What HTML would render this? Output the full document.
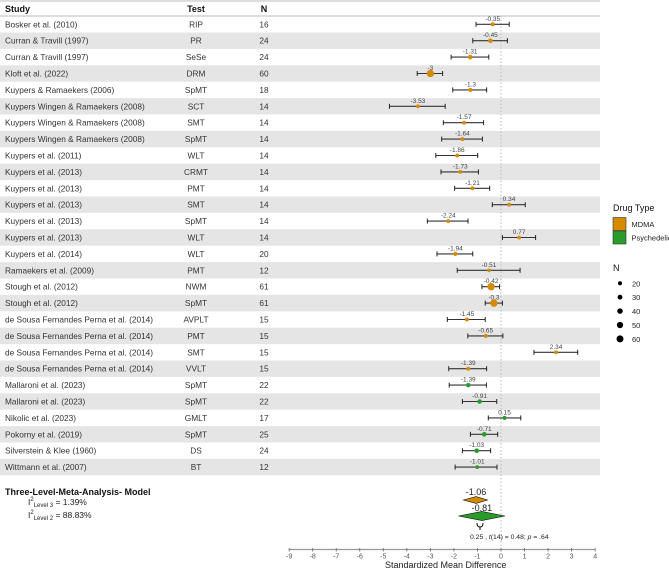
<!DOCTYPE html>
<html><head><meta charset="utf-8">
<style>
html,body{margin:0;padding:0;background:#fff;}
svg{display:block;font-family:"Liberation Sans",Arial,sans-serif;}
</style></head>
<body>
<svg id="chart" width="669" height="569" viewBox="0 0 669 569"></svg>
<script>
const studies = ["Bosker et al. (2010)","Curran & Travill (1997)","Curran & Travill (1997)","Kloft et al. (2022)","Kuypers & Ramaekers (2006)","Kuypers Wingen & Ramaekers (2008)","Kuypers Wingen & Ramaekers (2008)","Kuypers Wingen & Ramaekers (2008)","Kuypers et al. (2011)","Kuypers et al. (2013)","Kuypers et al. (2013)","Kuypers et al. (2013)","Kuypers et al. (2013)","Kuypers et al. (2013)","Kuypers et al. (2014)","Ramaekers et al. (2009)","Stough et al. (2012)","Stough et al. (2012)","de Sousa Fernandes Perna et al. (2014)","de Sousa Fernandes Perna et al. (2014)","de Sousa Fernandes Perna et al. (2014)","de Sousa Fernandes Perna et al. (2014)","Mallaroni et al. (2023)","Mallaroni et al. (2023)","Nikolic et al. (2023)","Pokorny et al. (2019)","Silverstein & Klee (1960)","Wittmann et al. (2007)"];
const tests = ["RIP","PR","SeSe","DRM","SpMT","SCT","SMT","SpMT","WLT","CRMT","PMT","SMT","SpMT","WLT","WLT","PMT","NWM","SpMT","AVPLT","PMT","SMT","VVLT","SpMT","SpMT","GMLT","SpMT","DS","BT"];
const ns = [16,24,24,60,18,14,14,14,14,14,14,14,14,14,20,12,61,61,15,15,15,15,22,22,17,25,24,12];
const smd = [-0.35,-0.45,-1.31,-3,-1.3,-3.53,-1.57,-1.64,-1.86,-1.73,-1.21,0.34,-2.24,0.77,-1.94,-0.51,-0.42,-0.3,-1.45,-0.65,2.34,-1.39,-1.39,-0.91,0.15,-0.71,-1.03,-1.01];
const ciLow = [-1.06,-1.2,-2.12,-3.56,-2.05,-4.74,-2.45,-2.52,-2.77,-2.55,-1.97,-0.37,-3.13,0.06,-2.72,-1.86,-0.81,-0.67,-2.28,-1.41,1.40,-2.22,-2.2,-1.64,-0.54,-1.30,-1.64,-1.95];
const ciHigh = [0.35,0.27,-0.52,-2.48,-0.61,-2.37,-0.74,-0.79,-0.99,-0.96,-0.48,1.03,-1.40,1.47,-1.20,0.81,-0.06,0.06,-0.67,0.08,3.26,-0.61,-0.62,-0.18,0.84,-0.14,-0.44,-0.17];
const drug = ["MDMA","MDMA","MDMA","MDMA","MDMA","MDMA","MDMA","MDMA","MDMA","MDMA","MDMA","MDMA","MDMA","MDMA","MDMA","MDMA","MDMA","MDMA","MDMA","MDMA","MDMA","MDMA","Psychedelic","Psychedelic","Psychedelic","Psychedelic","Psychedelic","Psychedelic"];
const xTicks = [-9,-8,-7,-6,-5,-4,-3,-2,-1,0,1,2,3,4];
const summaryLabels = ["MDMA","Psychedelic"];
const summaryEst = [-1.06,-0.81];
const summaryLow = [-1.6,-1.81];
const summaryHigh = [-0.57,0.17];
const legendN = [20,30,40,50,60];

const colors = {MDMA:"#d68a00", Psychedelic:"#2a9a2a"};
const NS = "http://www.w3.org/2000/svg";
const svg = document.getElementById("chart");
const x = v => 501 + v * 23.54;
const rowY = i => 24.3 + i * 16.4;
const rad = n => 1.4 + n * 0.038;
function mk(tag, attrs, parent, text){
  const e = document.createElementNS(NS, tag);
  for (const k in attrs) e.setAttribute(k, attrs[k]);
  if (text !== undefined) e.textContent = text;
  (parent || svg).appendChild(e);
  return e;
}

// header
let e = mk("line",{x1:0,x2:600,y1:1,y2:1,stroke:"#bbb","stroke-width":1});


e = mk("line",{x1:0,x2:600,y1:16,y2:16,stroke:"#bbb","stroke-width":1});


e = mk("text",{x:5,y:12,"font-size":9,"font-weight":"bold",fill:"#111"},svg,"Study");


e = mk("text",{x:196,y:12,"font-size":9,"font-weight":"bold","text-anchor":"middle",fill:"#111"},svg,"Test");


e = mk("text",{x:264,y:12,"font-size":9,"font-weight":"bold","text-anchor":"middle",fill:"#111"},svg,"N");



// stripes
studies.forEach((s,i)=>{
  if (i % 2 === 1){
    const r = mk("rect",{x:0,y:rowY(i)-8.2,width:600,height:16.4,fill:"#e5e5e5"});
    
    
  }
});

// zero line
e = mk("line",{x1:x(0),x2:x(0),y1:16,y2:549,stroke:"#bbb","stroke-width":1,"stroke-dasharray":"1.5,2"});



// rows
studies.forEach((s,i)=>{
  const y = rowY(i);
  const g = mk("g",{});
  
  
  let t = mk("text",{x:5,y:y+3,"font-size":8.3,fill:"#333"},g,s);
  
  
  t = mk("text",{x:196,y:y+3,"font-size":8.3,fill:"#333","text-anchor":"middle"},g,tests[i]);
  
  
  t = mk("text",{x:264,y:y+3,"font-size":8.3,fill:"#333","text-anchor":"middle"},g,String(ns[i]));
  
  
  const ci = mk("line",{x1:x(ciLow[i]),x2:x(ciHigh[i]),y1:y,y2:y,stroke:"#333","stroke-width":1.1},g);
  
  
  [ciLow[i],ciHigh[i]].forEach(v=>{
    const c = mk("line",{x1:x(v),x2:x(v),y1:y-2.5,y2:y+2.5,stroke:"#222","stroke-width":1},g);
    
    
  });
  const p = mk("circle",{cx:x(smd[i]),cy:y,r:rad(ns[i]),fill:colors[drug[i]]},g);
  
  
  t = mk("text",{x:x(smd[i]),y:y-3.5,"font-size":6.5,fill:"#444","text-anchor":"middle"},g,String(smd[i]));
  
  
});

// summary diamonds
const sumY = [500, 516];
const sumH = [3.4, 4.6];
summaryLabels.forEach((lab,i)=>{
  const y = sumY[i], h = sumH[i];
  const d = mk("polygon",{points:`${x(summaryLow[i])},${y} ${x(summaryEst[i])},${y-h} ${x(summaryHigh[i])},${y} ${x(summaryEst[i])},${y+h}`,fill:colors[lab],stroke:"#111","stroke-width":0.6});
  
  
  const t = mk("text",{x:x(summaryEst[i]),y:y-5,"font-size":9,fill:"#222","text-anchor":"middle"},svg,String(summaryEst[i]));
  
  
});
// fork
e = mk("path",{d:`M${x(-1.02)} ${sumY[1]+7} q0 4 3 4 q3 0 3 -4 M${x(-1.02)+3} ${sumY[1]+11} v3`,fill:"none",stroke:"#111","stroke-width":1});


e = mk("text",{x:470,y:539,"font-size":6.8,fill:"#222"},svg);


e.innerHTML = '0.25 , <tspan font-style="italic">t</tspan>(14) = 0.48; <tspan font-style="italic">p</tspan> = .64';

// model text
e = mk("text",{x:5,y:495,"font-size":9,"font-weight":"bold",fill:"#111"},svg,"Three-Level-Meta-Analysis- Model");


e = mk("text",{x:28,y:505,"font-size":8.5,fill:"#222"},svg);


e.innerHTML = 'I<tspan dy="-4" font-size="6">2</tspan><tspan dy="6" font-size="6">Level 3</tspan><tspan dy="-2"> = 1.39%</tspan>';
e = mk("text",{x:28,y:518,"font-size":8.5,fill:"#222"},svg);


e.innerHTML = 'I<tspan dy="-4" font-size="6">2</tspan><tspan dy="6" font-size="6">Level 2</tspan><tspan dy="-2"> = 88.83%</tspan>';

// axis
e = mk("line",{x1:x(-9),x2:x(4),y1:549.5,y2:549.5,stroke:"#999","stroke-width":1.2});


xTicks.forEach(v=>{
  const tk = mk("line",{x1:x(v),x2:x(v),y1:548,y2:551.5,stroke:"#666","stroke-width":0.8});
  
  
  const tl = mk("text",{x:x(v),y:558.5,"font-size":7,fill:"#555","text-anchor":"middle"},svg,String(v));
  
  
});
e = mk("text",{x:x(-2.35),y:568,"font-size":9,fill:"#222","text-anchor":"middle"},svg,"Standardized Mean Difference");



// legend
e = mk("text",{x:613,y:211,"font-size":9,fill:"#111"},svg,"Drug Type");


summaryLabels.forEach((lab,i)=>{
  const y0 = 217.5 + i*13.5;
  const r = mk("rect",{x:613,y:y0,width:13,height:13,fill:colors[lab],stroke:"#333","stroke-width":0.6});
  
  
  const t = mk("text",{x:631.5,y:y0+9.5,"font-size":7.5,fill:"#222"},svg,lab);
  
  
});
e = mk("text",{x:613,y:271,"font-size":9,fill:"#111"},svg,"N");


legendN.forEach((n,i)=>{
  const y = 283.3 + i*13.9;
  const c = mk("circle",{cx:620,cy:y,r:rad(n)*0.95,fill:"#000"});
  
  
  const t = mk("text",{x:632,y:y+3,"font-size":7.5,fill:"#222"},svg,String(n));
  
  
});
</script>
</body></html>
